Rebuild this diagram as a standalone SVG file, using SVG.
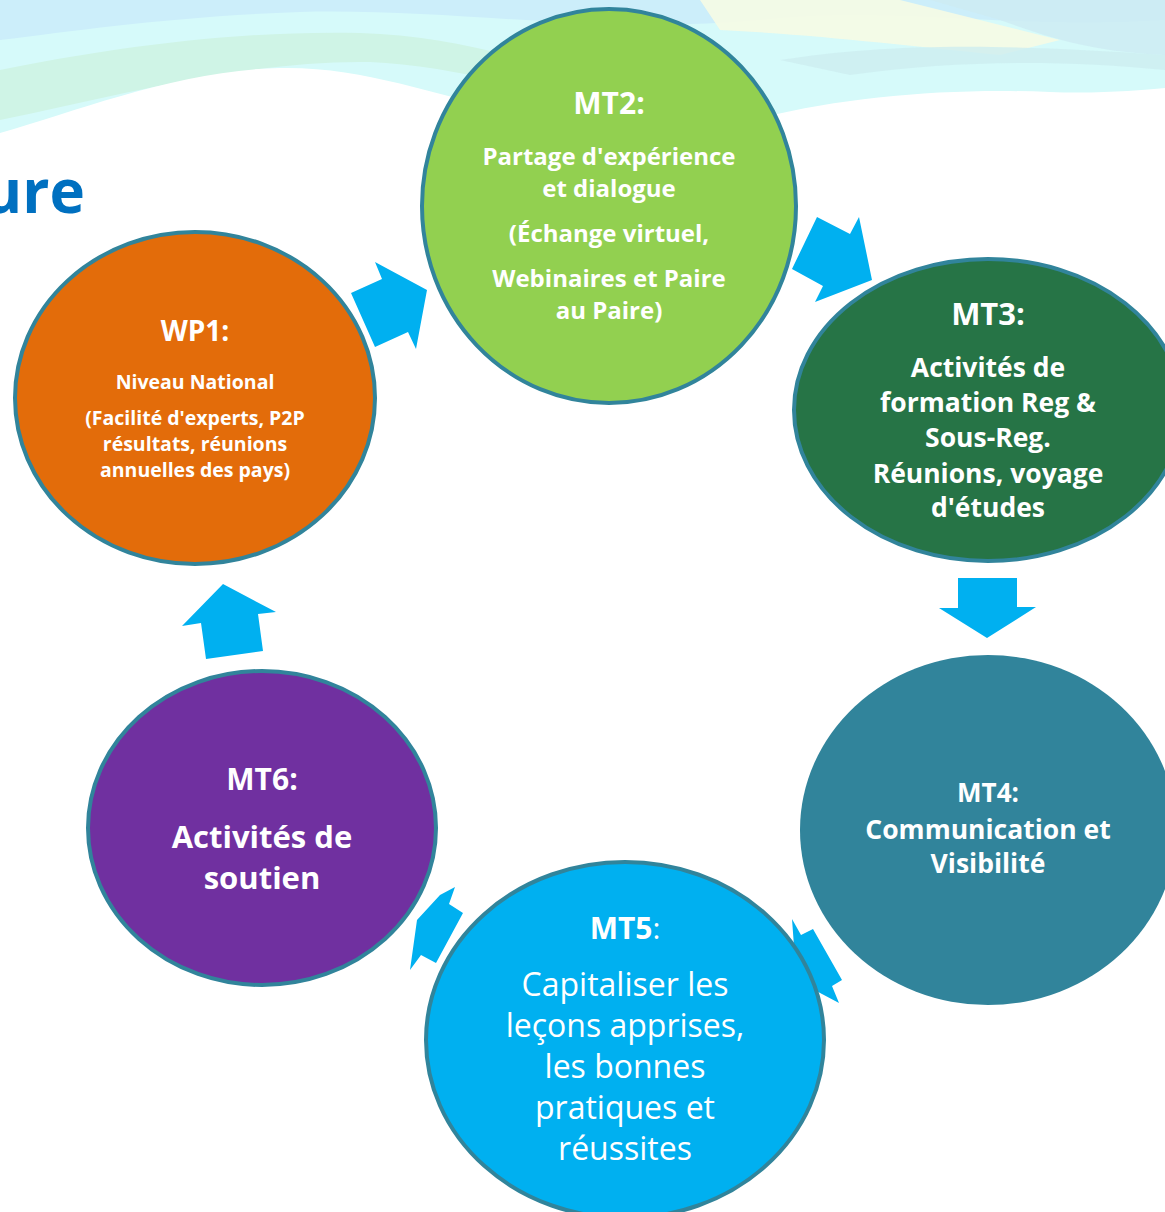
<svg xmlns="http://www.w3.org/2000/svg" width="1165" height="1212" viewBox="0 0 1165 1212">
<style>
.node{stroke:#31849B;stroke-width:4}
.t{fill:#FFFFFF;font-family:"Open Sans","Noto Sans","Liberation Sans",sans-serif;font-weight:700;text-anchor:middle}
.r{font-weight:400}
.arr{fill:#00B0F0}
</style>
<rect width="1165" height="1212" fill="#FFFFFF"/>
<g id="background">
<path d="M0,0 H1165 V135 H0 Z" fill="#D6FAFA"/>
<path d="M0,0 H1165 V20 C1000,30 900,5 760,20 C600,35 450,8 300,12 C180,16 80,30 0,40 Z" fill="#CCEEFA"/>
<path d="M0,70 C100,50 230,30 360,33 C470,36 560,70 640,100 L640,115 C560,95 450,65 370,62 C250,60 120,95 0,120 Z" fill="#CFF4E6"/>
<path d="M700,0 L900,0 L1060,40 L1000,55 C900,45 820,35 720,30 Z" fill="#F6FBE4" opacity="0.9"/>
<path d="M930,0 L1165,0 L1165,55 C1100,52 1060,42 1000,20 Z" fill="#CDEBF2" opacity="0.8"/>
<path d="M780,60 C880,45 980,42 1165,55 L1165,70 C1060,60 960,60 850,75 Z" fill="#CDEEF0" opacity="0.8"/>
<path d="M0,140 L0,133 C80,110 180,70 280,68 C380,66 460,108 560,118 L760,118 C850,96 950,88 1050,92 C1100,94 1140,90 1165,88 L1165,140 Z" fill="#FFFFFF"/>
<text x="85" y="213" font-family="'Open Sans','Noto Sans',sans-serif" font-weight="700" font-size="60" fill="#0070C0" text-anchor="end">ure</text>
</g>
<g id="connectors">
<polygon class="arr" points="351,293 382,279 375,262 427,290 416,349 408,332 375,347"/>
<polygon class="arr" points="792,269 817,217 850,234 859,217 872,280 815,302 823,286"/>
<polygon class="arr" points="958,578 1017,578 1017,607 1036,607 987,638 939,608 958,608"/>
<polygon class="arr" points="792,919 801,935 813,929 842,980 832,986 839,1003 805,985 795,960"/>
<polygon class="arr" points="455,887 449,904 463,913 436,963 421,955 410,970 417,920 440,895"/>
<polygon class="arr" points="223,584 276,612 258,614 263,651 206,659 201,623 182,626"/>
</g>
<g id="wp1">
<ellipse class="node" cx="195" cy="398" rx="180" ry="166" fill="#E36C0A"/>
<text class="t" x="195" y="341" font-size="28">WP1:</text>
<text class="t" x="195" y="389" font-size="19.5">Niveau National</text>
<text class="t" x="195" y="425" font-size="19.5">(Facilité d'experts, P2P</text>
<text class="t" x="195" y="451" font-size="19.5">résultats, réunions</text>
<text class="t" x="195" y="477" font-size="19.5">annuelles des pays)</text>
</g>
<g id="mt2">
<ellipse class="node" cx="609" cy="206" rx="187" ry="197" fill="#92D050"/>
<text class="t" x="609" y="114" font-size="30">MT2:</text>
<text class="t" x="609" y="165" font-size="24">Partage d'expérience</text>
<text class="t" x="609" y="197" font-size="24">et dialogue</text>
<text class="t" x="609" y="242" font-size="24">(Échange virtuel,</text>
<text class="t" x="609" y="287" font-size="24">Webinaires et Paire</text>
<text class="t" x="609" y="319" font-size="24">au Paire)</text>
</g>
<g id="mt3">
<ellipse class="node" cx="988" cy="410" rx="194" ry="151" fill="#267446"/>
<text class="t" x="988" y="325" font-size="31">MT3:</text>
<text class="t" x="988" y="377" font-size="26.5">Activités de</text>
<text class="t" x="988" y="412" font-size="26.5">formation Reg &amp;</text>
<text class="t" x="988" y="447" font-size="26.5">Sous-Reg.</text>
<text class="t" x="988" y="483" font-size="26.5">Réunions, voyage</text>
<text class="t" x="988" y="517" font-size="26.5">d'études</text>
</g>
<g id="mt4">
<ellipse cx="988" cy="830" rx="188" ry="175" fill="#31849B"/>
<text class="t" x="988" y="802" font-size="26">MT4:</text>
<text class="t" x="988" y="839" font-size="26.5">Communication et</text>
<text class="t" x="988" y="873" font-size="26.5">Visibilité</text>
</g>
<g id="mt5">
<ellipse class="node" cx="625" cy="1040" rx="199" ry="178" fill="#00B0F0"/>
<text class="t" x="625" y="939" font-size="30">MT5<tspan class="r">:</tspan></text>
<text class="t r" x="625" y="996" font-size="32">Capitaliser les</text>
<text class="t r" x="625" y="1037" font-size="32">leçons apprises,</text>
<text class="t r" x="625" y="1078" font-size="32">les bonnes</text>
<text class="t r" x="625" y="1119" font-size="32">pratiques et</text>
<text class="t r" x="625" y="1160" font-size="32">réussites</text>
</g>
<g id="mt6">
<ellipse class="node" cx="262" cy="828" rx="174" ry="157" fill="#7030A0"/>
<text class="t" x="262" y="790" font-size="30">MT6:</text>
<text class="t" x="262" y="848" font-size="31">Activités de</text>
<text class="t" x="262" y="889" font-size="31">soutien</text>
</g>
</svg>
